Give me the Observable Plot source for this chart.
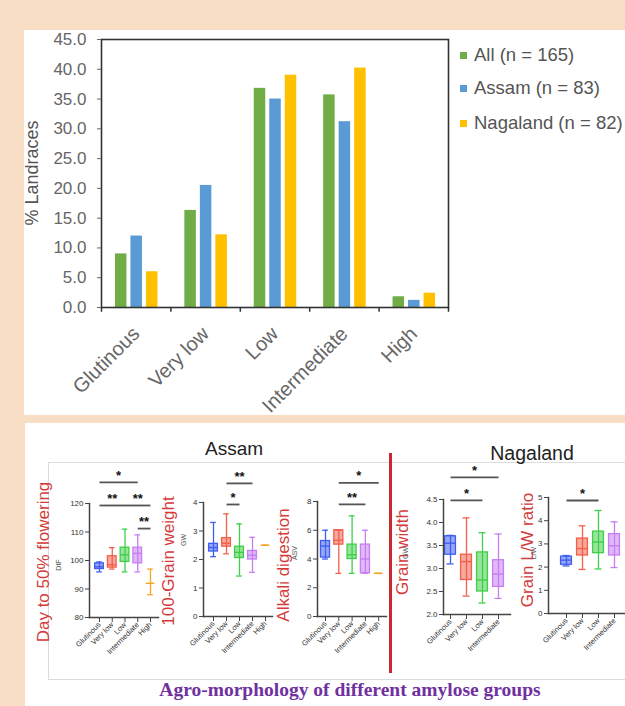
<!DOCTYPE html>
<html><head><meta charset="utf-8">
<script src="https://cdn.jsdelivr.net/npm/d3@7"></script>
<script src="https://cdn.jsdelivr.net/npm/@observablehq/plot@0.6"></script>
<style>
html,body{margin:0;padding:0;}
body{width:625px;height:706px;overflow:hidden;background:#f7dec5;position:relative;font-family:"Liberation Sans",Arial,sans-serif;}
</style></head><body>
<script>
// ---------- DATA ----------
const amyloseGroups = ["Glutinous", "Very low", "Low", "Intermediate", "High"];
const allPct = [9.0, 16.3, 36.8, 35.7, 1.8];
const assamPct = [12.0, 20.5, 35.0, 31.2, 1.2];
const nagalandPct = [6.0, 12.2, 39.0, 40.2, 2.4];
const seriesNames = ["All (n = 165)", "Assam (n = 83)", "Nagaland (n = 82)"];
const seriesColors = ["#70ad47", "#5b9bd5", "#ffc000"];
const pctTicks = [0, 5, 10, 15, 20, 25, 30, 35, 40, 45];

const boxColors = ["#3f5ef0", "#f2604a", "#3fcf49", "#c67ef2", "#f5a623"];
const nagaGroups = ["Glutinous", "Very low", "Low", "Intermediate"];

// [min, q1, median, q3, max]
const dtfAssam = [[96, 97, 97.8, 99, 99.5], [97, 97.5, 98.5, 101.5, 104.5], [96, 99.5, 102, 104.5, 111], [96, 99, 102.5, 104.5, 109], [88, 92, 92, 92, 97]];
const gwAssam = [[2.1, 2.28, 2.42, 2.55, 3.3], [2.2, 2.45, 2.57, 2.75, 3.6], [1.42, 2.05, 2.25, 2.45, 3.25], [1.55, 2.0, 2.15, 2.3, 2.78], [2.5, 2.5, 2.5, 2.5, 2.5]];
const adAssam = [[4, 4.1, 4.9, 5.25, 6], [3, 5, 5.3, 6, 6], [3, 4, 4.3, 5, 7], [3, 3, 4, 5, 6], [3, 3, 3, 3, 3]];
const gwdNaga = [[3.1, 3.3, 3.55, 3.7, 3.72], [2.4, 2.75, 3.15, 3.3, 4.1], [2.25, 2.5, 2.75, 3.35, 3.78], [2.35, 2.6, 2.88, 3.18, 3.75]];
const lwNaga = [[2.05, 2.1, 2.3, 2.45, 2.5], [1.9, 2.5, 2.8, 3.23, 3.78], [1.92, 2.6, 3.08, 3.53, 4.44], [1.98, 2.5, 2.92, 3.42, 3.95]];

const dtfTicks = [80, 90, 100, 110, 120];
const gwTicks = [0, 1, 2, 3, 4];
const adTicks = [0, 2, 4, 6, 8];
const gwdTicks = [2.0, 2.5, 3.0, 3.5, 4.0, 4.5];
const lwTicks = [0, 1, 2, 3, 4, 5];

const sigDtF = [{from: "Glutinous", to: "Intermediate", y: 127.4, label: "*"}, {from: "Glutinous", to: "Low", y: 119.3, label: "**"}, {from: "Low", to: "High", y: 119.3, label: "**"}, {from: "Intermediate", to: "High", y: 111.2, label: "**"}];
const sigGW = [{from: "Very low", to: "Intermediate", y: 4.67, label: "**"}, {from: "Very low", to: "Low", y: 3.93, label: "*"}];
const sigAD = [{from: "Very low", to: "High", y: 9.3, label: "*"}, {from: "Very low", to: "Intermediate", y: 7.8, label: "**"}];
const sigGWd = [{from: "Glutinous", to: "Intermediate", y: 4.98, label: "*"}, {from: "Glutinous", to: "Low", y: 4.48, label: "*"}];
const sigLW = [{from: "Glutinous", to: "Low", y: 4.87, label: "*"}];

// ---------- helpers ----------
function box(css) { const d = document.createElement("div"); d.style.cssText = "position:absolute;" + css; document.body.appendChild(d); return d; }
function text(str, css) { const d = box(css); d.textContent = str; return d; }
function vlabel(str, cx, cy, size, color) {
  return text(str, `left:${cx}px;top:${cy}px;white-space:nowrap;font-size:${size}px;line-height:1;color:${color};transform:translate(-50%,-50%) rotate(-90deg);`);
}
function place(el, left, top) { el.style.position = "absolute"; el.style.left = left + "px"; el.style.top = top + "px"; document.body.appendChild(el); }
const svgStyle = {background: "transparent", overflow: "visible", fontFamily: "Liberation Sans, Arial, sans-serif"};

// ---------- panels ----------
box("left:24px;top:30px;width:601px;height:385px;background:#fff;overflow:hidden;");
box("left:25px;top:423px;width:600px;height:283px;background:#fff;");

// ---------- top bar chart ----------
{
  const left = 24, top = 30, width = 431, height = 385;
  const mL = 77, mR = 7;
  const bw = (width - mL - mR) / amyloseGroups.length;
  const barW = 11.5;
  const inset = (bw - barW) / 2;
  const offsets = [-15, 0.5, 16];
  const series = [allPct, assamPct, nagalandPct];
  const marks = [];
  series.forEach((vals, k) => {
    marks.push(Plot.barY(amyloseGroups.map((c, i) => ({c, v: vals[i]})), {x: "c", y: "v", fill: seriesColors[k], insetLeft: inset, insetRight: inset, dx: offsets[k]}));
  });
  marks.push(
    Plot.frame({stroke: "#333", strokeWidth: 1.6}),
    Plot.ruleX(amyloseGroups, {dx: -bw / 2, y1: 0, y2: -0.8, stroke: "#333", strokeWidth: 1.5}),
    Plot.ruleX(["High"], {dx: bw / 2, y1: 0, y2: -0.8, stroke: "#333", strokeWidth: 1.5}),
    Plot.axisY({ticks: pctTicks, tickFormat: d3.format(".1f"), tickSize: 4, tickPadding: 11, fontSize: 17, color: "#666", label: null}),
    Plot.axisX({tickSize: 0, tickPadding: 23, tickRotate: -45, fontSize: 20, color: "#666", label: null})
  );
  const p = Plot.plot({width, height, marginLeft: mL, marginRight: mR, marginTop: 9, marginBottom: 108,
    x: {domain: amyloseGroups, padding: 0, round: false}, y: {domain: [0, 45]}, style: svgStyle, marks});
  place(p, left, top);
  // clip rotated labels at the white panel's bottom edge like the reference
  box("left:0;top:415px;width:625px;height:8px;background:#f7dec5;");
  vlabel("% Landraces", 32, 173, 18, "#555");
  const ly = [55, 88, 123];
  seriesNames.forEach((n, k) => {
    box(`left:460px;top:${ly[k] - 3}px;width:7px;height:7px;background:${seriesColors[k]};`);
    text(n, `left:474px;top:${ly[k] - 11}px;line-height:22px;font-size:18.5px;color:#555;white-space:nowrap;`);
  });
}

// ---------- bottom box plots ----------
box("left:48px;top:462px;width:600px;height:216px;border:1px solid #dcdcdc;");
box("left:389px;top:453px;width:3px;height:220px;background:#c9292f;");
text("Assam", "left:234px;top:449px;transform:translate(-50%,-50%);font-size:19px;color:#222;white-space:nowrap;");
text("Nagaland", "left:532px;top:453px;transform:translate(-50%,-50%);font-size:19.5px;color:#222;white-space:nowrap;");
text("Agro-morphology of different amylose groups", "left:350px;top:690px;transform:translate(-50%,-50%);font-family:'Liberation Serif','Times New Roman',serif;font-weight:bold;font-size:19.5px;color:#7030a0;white-space:nowrap;");

function boxPanel(cfg) {
  const top = 450, bottom = 662;
  const left = cfg.axisX - 36;
  const width = cfg.endX - left;
  const height = bottom - top;
  const cats = cfg.cats;
  const rows = cats.map((c, i) => ({cat: c, min: cfg.stats[i][0], q1: cfg.stats[i][1], med: cfg.stats[i][2], q3: cfg.stats[i][3], max: cfg.stats[i][4]}));
  const s = cfg.step;
  const r0 = cfg.c0 - left - s / 2;
  const r1 = r0 + s * cats.length;
  const bIn = s * 0.16, cIn = s * 0.28;
  const marks = [
    Plot.ruleX(rows, {x: "cat", y1: "min", y2: "max", stroke: "cat", strokeWidth: 1.3}),
    Plot.barY(rows, {x: "cat", y1: "q1", y2: "q3", fill: "cat", fillOpacity: 0.55, stroke: "cat", strokeWidth: 1.3, insetLeft: bIn, insetRight: bIn}),
    Plot.tickY(rows, {x: "cat", y: "med", stroke: "cat", strokeWidth: 1.4, insetLeft: bIn, insetRight: bIn}),
    Plot.tickY(rows, {x: "cat", y: "min", stroke: "cat", strokeWidth: 1.3, insetLeft: cIn, insetRight: cIn}),
    Plot.tickY(rows, {x: "cat", y: "max", stroke: "cat", strokeWidth: 1.3, insetLeft: cIn, insetRight: cIn}),
    Plot.frame({anchor: "left", stroke: "#444", strokeWidth: 1.5}),
    Plot.frame({anchor: "bottom", stroke: "#444", strokeWidth: 1.5}),
    Plot.axisY({ticks: cfg.ticks, tickFormat: d3.format(cfg.fmt), tickSize: 4, tickPadding: 2, fontSize: 8, stroke: "#444", fill: "#333", label: null}),
    Plot.axisX({tickSize: 5, tickPadding: 1, tickRotate: -45, fontSize: 7.5, stroke: "#444", fill: "#333", label: null}),
    Plot.link(cfg.sig, {x1: "from", x2: "to", y1: "y", y2: "y", stroke: "#555", strokeWidth: 1.8})
  ];
  cfg.sig.forEach(b => {
    const span = cats.indexOf(b.to) - cats.indexOf(b.from);
    marks.push(Plot.text([b], {x: "from", y: "y", text: "label", dx: span * s / 2, dy: -7, fontSize: 13, fontWeight: "bold", fill: "#111"}));
  });
  const p = Plot.plot({width, height, marginLeft: cfg.axisX - left, marginRight: 0, marginTop: cfg.yTop - top, marginBottom: bottom - cfg.yBot,
    x: {type: "band", domain: cats, range: [r0, r1], padding: 0, round: false},
    y: {domain: cfg.domain},
    color: {domain: amyloseGroups, range: boxColors},
    style: svgStyle, marks});
  place(p, left, top);
  vlabel(cfg.label, cfg.lx, cfg.ly, 17, "#d33b3b");
  vlabel(cfg.short, cfg.sx, cfg.sy, 7, "#555");
}

boxPanel({cats: amyloseGroups, stats: dtfAssam, domain: [80, 120], ticks: dtfTicks, fmt: "d", axisX: 89, c0: 99, step: 12.75, endX: 158, yTop: 503, yBot: 617, sig: sigDtF, label: "Day to 50% flowering", lx: 43, ly: 562, short: "DtF", sx: 58, sy: 565});
boxPanel({cats: amyloseGroups, stats: gwAssam, domain: [0, 4], ticks: gwTicks, fmt: "d", axisX: 203, c0: 213, step: 13, endX: 272, yTop: 502, yBot: 616, sig: sigGW, label: "100-Grain weight", lx: 168, ly: 561, short: "GW", sx: 183, sy: 540});
boxPanel({cats: amyloseGroups, stats: adAssam, domain: [0, 8], ticks: adTicks, fmt: "d", axisX: 317, c0: 325, step: 13.3, endX: 386, yTop: 501, yBot: 616, sig: sigAD, label: "Alkali digestion", lx: 283, ly: 565, short: "ASV", sx: 294, sy: 553});
boxPanel({cats: nagaGroups, stats: gwdNaga, domain: [2, 4.5], ticks: gwdTicks, fmt: ".1f", axisX: 443, c0: 450, step: 16, endX: 510, yTop: 499, yBot: 614, sig: sigGWd, label: "Grain width", lx: 402, ly: 552, short: "GW", sx: 405, sy: 553});
boxPanel({cats: nagaGroups, stats: lwNaga, domain: [0, 5], ticks: lwTicks, fmt: "d", axisX: 548, c0: 566, step: 16, endX: 625, yTop: 497, yBot: 613, sig: sigLW, label: "Grain L/W ratio", lx: 527, ly: 550, short: "L/W", sx: 533, sy: 553});
</script>
</body></html>
